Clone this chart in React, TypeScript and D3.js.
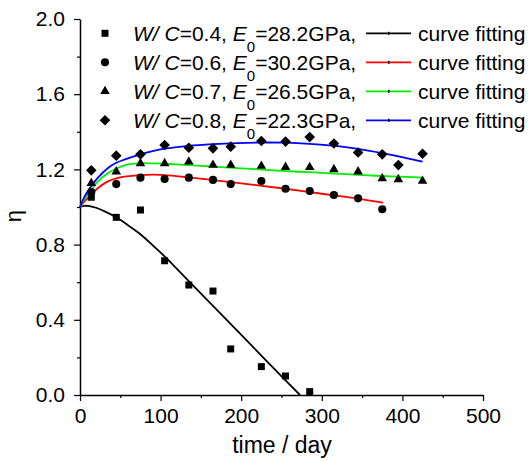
import React, { useEffect, useRef } from 'react';
import * as d3 from 'd3';

// measured points, days / eta
const daysA = [14, 45, 75, 105, 135, 165, 187, 225, 255, 285];
const etaA = [1.052, 0.945, 0.984, 0.714, 0.585, 0.553, 0.245, 0.151, 0.101, 0.018];

const daysB = [14, 45, 75, 105, 135, 165, 187, 225, 255, 285, 315, 345, 375];
const etaB = [1.08, 1.122, 1.156, 1.149, 1.156, 1.144, 1.122, 1.138, 1.097, 1.085, 1.064, 1.046, 0.988];

const daysC = [14, 45, 75, 105, 135, 165, 187, 225, 255, 285, 315, 345, 375, 395, 425];
const etaC = [1.126, 1.188, 1.232, 1.232, 1.241, 1.223, 1.223, 1.218, 1.212, 1.211, 1.2, 1.188, 1.152, 1.147, 1.138];

const daysD = [14, 45, 75, 105, 135, 165, 187, 225, 255, 285, 315, 345, 375, 395, 425];
const etaD = [1.195, 1.273, 1.28, 1.33, 1.315, 1.312, 1.321, 1.351, 1.348, 1.372, 1.338, 1.29, 1.28, 1.223, 1.283];

// fitted curves
const fitA: [number, number][] = [[0, 1.0], [5, 1.006], [10, 1.006], [20, 0.996], [30, 0.978], [45, 0.945], [60, 0.902], [75, 0.855], [90, 0.797], [105, 0.737], [120, 0.672], [135, 0.606], [165, 0.474], [195, 0.342], [225, 0.21], [255, 0.078], [273, 0]];
const fitB: [number, number][] = [[0, 1.0], [5, 1.027], [12, 1.058], [22, 1.1], [34, 1.135], [45, 1.152], [55, 1.161], [75, 1.17], [92, 1.172], [105, 1.17], [135, 1.158], [165, 1.143], [195, 1.128], [225, 1.113], [255, 1.097], [285, 1.079], [315, 1.062], [345, 1.044], [376, 1.023]];
const fitC: [number, number][] = [[0, 1.0], [5, 1.04], [12, 1.08], [22, 1.135], [34, 1.178], [45, 1.205], [55, 1.222], [72, 1.232], [92, 1.232], [105, 1.23], [135, 1.223], [165, 1.215], [195, 1.207], [225, 1.199], [255, 1.191], [285, 1.185], [315, 1.178], [345, 1.171], [375, 1.165], [405, 1.16], [425, 1.156]];
const fitD: [number, number][] = [[0, 1.0], [5, 1.05], [12, 1.1], [22, 1.155], [34, 1.205], [45, 1.235], [55, 1.252], [75, 1.28], [90, 1.297], [105, 1.31], [135, 1.325], [165, 1.334], [195, 1.34], [225, 1.343], [255, 1.342], [285, 1.336], [315, 1.326], [345, 1.309], [375, 1.286], [405, 1.26], [425, 1.241]];

const wcLabels = ['0.4', '0.6', '0.7', '0.8'];
const e0Labels = ['28.2', '30.2', '26.5', '22.3'];
const fitColors = ['#000000', '#ff0000', '#00ee00', '#0000ff'];

const xTicks = [0, 100, 200, 300, 400, 500];
const yTicks = [0, 0.4, 0.8, 1.2, 1.6, 2.0];

const FONT = '"Liberation Sans", Arial, sans-serif';

const App = () => {
  const svgRef = useRef<SVGSVGElement>(null);

  useEffect(() => {
    if (!svgRef.current) return;
    const svg = d3.select(svgRef.current);
    svg.selectAll('*').remove();

    const x = d3.scaleLinear().domain([0, 500]).range([80, 483]);
    const y = d3.scaleLinear().domain([0, 2]).range([395, 19]);

    const symbols = [
      d3.symbol().type(d3.symbolSquare).size(49),
      d3.symbol().type(d3.symbolCircle).size(52),
      d3.symbol().type(d3.symbolTriangle).size(40),
      d3.symbol().type(d3.symbolDiamond2).size(72),
    ];

    // axes
    const xAxis = svg.append('g').attr('transform', `translate(0,${y(0)})`)
      .call(d3.axisBottom(x).tickValues(xTicks).tickSize(6).tickSizeOuter(0).tickPadding(7));
    svg.append('g').attr('transform', `translate(0,${y(0)})`)
      .call(d3.axisBottom(x).tickValues(d3.range(50, 500, 100)).tickSize(3).tickFormat(() => ''))
      .call((g) => g.select('.domain').remove());

    const yAxis = svg.append('g').attr('transform', `translate(${x(0)},0)`)
      .call(d3.axisLeft(y).tickValues(yTicks).tickFormat(d3.format('.1f')).tickSize(6).tickSizeOuter(0).tickPadding(9));
    svg.append('g').attr('transform', `translate(${x(0)},0)`)
      .call(d3.axisLeft(y).tickValues([0.2, 0.6, 1.0, 1.4, 1.8]).tickSize(3).tickFormat(() => ''))
      .call((g) => g.select('.domain').remove());

    svg.selectAll('.domain').attr('stroke', '#000').attr('stroke-width', 1.5);
    svg.selectAll('.tick line').attr('stroke', '#000').attr('stroke-width', 1.2);
    [xAxis, yAxis].forEach((g) => g.selectAll('text')
      .attr('font-family', FONT).attr('font-size', 21).attr('fill', '#000'));

    svg.append('text').attr('x', 282).attr('y', 453).attr('text-anchor', 'middle')
      .attr('font-family', FONT).attr('font-size', 23).text('time / day');
    svg.append('text').attr('transform', 'translate(21,216) rotate(-90)').attr('text-anchor', 'middle')
      .attr('font-family', FONT).attr('font-size', 22).text('η');

    // fitted curves
    const line = d3.line<[number, number]>().x((d) => x(d[0])).y((d) => y(d[1])).curve(d3.curveCatmullRom.alpha(0.5));
    [fitA, fitB, fitC, fitD].forEach((fit, i) => {
      svg.append('path').datum(fit).attr('d', line).attr('fill', 'none')
        .attr('stroke', fitColors[i]).attr('stroke-width', 1.8);
    });

    // points
    const sets = [[daysA, etaA], [daysB, etaB], [daysC, etaC], [daysD, etaD]];
    sets.forEach(([ds, es], i) => {
      svg.append('g').selectAll('path').data(ds).enter().append('path')
        .attr('transform', (d, j) => `translate(${x(d)},${y(es[j])})`)
        .attr('d', symbols[i]()).attr('fill', '#000');
    });

    // legend
    wcLabels.forEach((wc, i) => {
      const ry = 33.3 + i * 29;
      const g = svg.append('g');
      g.append('path').attr('transform', `translate(105,${ry})`).attr('d', symbols[i]()).attr('fill', '#000');
      const t = g.append('text').attr('x', 133).attr('y', ry + 7.5)
        .attr('font-family', FONT).attr('font-size', 21);
      t.append('tspan').attr('font-style', 'italic').text('W/ C');
      t.append('tspan').text(`=${wc}, `);
      t.append('tspan').attr('font-style', 'italic').text('E');
      t.append('tspan').attr('font-size', 15).attr('dy', 11).text('0');
      t.append('tspan').attr('dy', -11).text(`=${e0Labels[i]}GPa,`);
      g.append('line').attr('x1', 366).attr('x2', 411).attr('y1', ry).attr('y2', ry)
        .attr('stroke', fitColors[i]).attr('stroke-width', 1.8);
      g.append('rect').attr('x', 388).attr('y', ry - 1.5).attr('width', 1.5).attr('height', 3).attr('fill', '#000');
      g.append('text').attr('x', 418).attr('y', ry + 7.5)
        .attr('font-family', FONT).attr('font-size', 21).text('curve fitting');
    });
  }, []);

  return (
    <svg ref={svgRef} width={532} height={461}
      style={{ position: 'absolute', left: 0, top: 0, background: '#fff' }} />
  );
};

export default App;
